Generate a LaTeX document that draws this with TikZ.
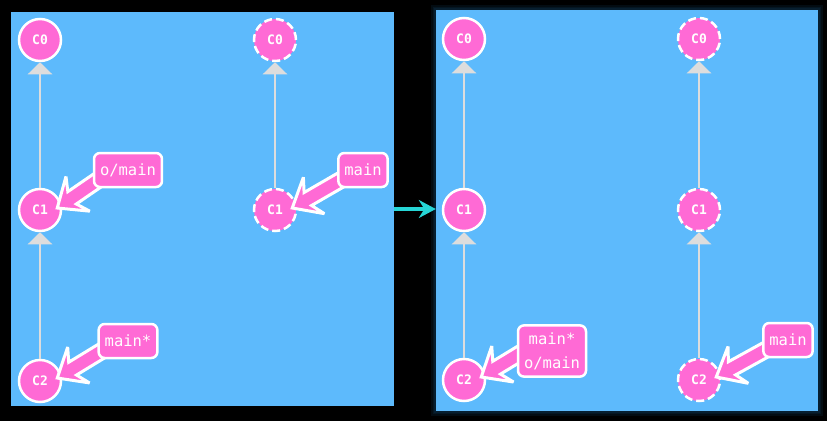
\documentclass[tikz,border=0pt]{standalone}
\usepackage{fontspec}
\setmonofont{DejaVu Sans Mono}
\usetikzlibrary{arrows.meta,calc}

\definecolor{panelblue}{RGB}{93,186,252}
\definecolor{commitpink}{RGB}{255,106,213}
\definecolor{linkgray}{RGB}{221,221,221}
\definecolor{movecyan}{RGB}{38,214,214}
\definecolor{glowblue}{RGB}{30,110,170}

\pgfdeclarelayer{back}
\pgfdeclarelayer{front}
\pgfsetlayers{back,main,front}

\tikzset{
  panel/.style={rectangle, fill=panelblue, inner sep=0pt},
  commit/.style={circle, draw=white, line width=2.5pt, fill=commitpink, minimum size=42pt, inner sep=0pt,
    text=white, font=\ttfamily\bfseries\fontsize{13}{13}\selectfont},
  remote/.style={commit, dash pattern=on 8pt off 4pt},
  branch/.style={rectangle, rounded corners=6pt, draw=white, line width=2.5pt, fill=commitpink, text=white,
    minimum height=34pt, inner xsep=6pt, align=center, font=\ttfamily\fontsize{15.5}{24}\selectfont},
  parent/.style={draw=linkgray, line width=2.5pt, -{Triangle[length=12pt,width=24pt]}},
  pointer/.style={fill=commitpink, draw=white, line width=3pt, line join=miter, miter limit=4},
  move/.style={draw=movecyan, line width=3.5pt, -{Stealth[length=17pt,width=18pt]}}
}

% fat pointer from a branch label (#1) to a commit (#2)
\newcommand{\branchptr}[2]{%
  \path let \p1 = ($(#1)-(#2)$), \n1 = {atan2(\y1,\x1)}, \n2 = {veclen(\x1,\y1)} in
    \pgfextra{\xdef\ptrangle{\n1}\xdef\ptrlen{\n2}};
  \begin{scope}[shift={(#2)}, rotate=\ptrangle]
    \filldraw[pointer] (0,0) -- (25pt,21pt) -- (18pt,7.5pt) -- (\ptrlen,7.5pt)
      -- (\ptrlen,-7.5pt) -- (18pt,-7.5pt) -- (25pt,-21pt) -- cycle;
  \end{scope}
}

\begin{document}
\begin{tikzpicture}[x=1pt,y=-1pt]
    \useasboundingbox (0,0) rectangle (827,421);

    % the two panels, before and after
    \node[panel, minimum width=383pt, minimum height=394pt] (before) at (202.5,209) {};
    \node[panel, minimum width=382pt, minimum height=401pt] (after) at (627,210.5) {};

    \begin{pgfonlayer}{back}
        \fill[black] (0,0) rectangle (827,421);
        % glow round the second panel
        \foreach \w in {10,6,3}
            \draw[glowblue, opacity=0.11, line width=\w pt] (after.south west) rectangle (after.north east);
    \end{pgfonlayer}

    \draw[move] (before.east) -- (before.east -| after.west);

    % left panel: local commits and remote commits
    \node[commit] (lc0) at (40,40) {C0};
    \node[commit] (lc1) at (40,210) {C1};
    \node[commit] (lc2) at (40,381) {C2};
    \node[remote] (lr0) at (275,40) {C0};
    \node[remote] (lr1) at (275,210) {C1};

    \draw[parent] (lc1) -- (lc0);
    \draw[parent] (lc2) -- (lc1);
    \draw[parent] (lr1) -- (lr0);

    % right panel
    \node[commit] (rc0) at (464,39) {C0};
    \node[commit] (rc1) at (464,210) {C1};
    \node[commit] (rc2) at (464,380) {C2};
    \node[remote] (rr0) at (699,39) {C0};
    \node[remote] (rr1) at (699,210) {C1};
    \node[remote] (rr2) at (699,380) {C2};

    \draw[parent] (rc1) -- (rc0);
    \draw[parent] (rc2) -- (rc1);
    \draw[parent] (rr1) -- (rr0);
    \draw[parent] (rr2) -- (rr1);

    % branch labels sit above their pointers
    \begin{pgfonlayer}{front}
        \node[branch] (lomain) at (128,170) {o/main};
        \node[branch] (lrmain) at (363,170) {main};
        \node[branch] (lmain) at (128,341) {main*};
        \node[branch, inner ysep=7pt] (rboth) at (552,351) {main*\\o/main};
        \node[branch] (rrmain) at (788,340) {main};
    \end{pgfonlayer}

    \branchptr{$(lomain.west)+(14,4)$}{$(lc1.east)+(-5,-2)$}
    \branchptr{$(lrmain.west)+(14,4)$}{$(lr1.east)+(-5,-2)$}
    \branchptr{$(lmain.west)+(14,4)$}{$(lc2.east)+(-5,-3)$}
    \branchptr{$(rboth.west)+(14,-4)$}{$(rc2.east)+(-5,-3)$}
    \branchptr{$(rrmain.west)+(14,4)$}{$(rr2.east)+(-5,-3)$}
\end{tikzpicture}
\end{document}
